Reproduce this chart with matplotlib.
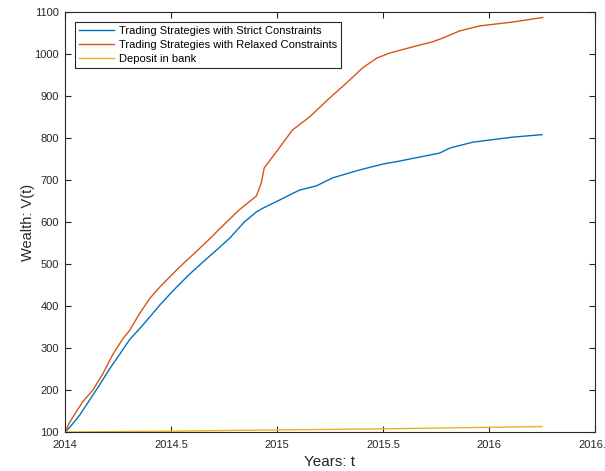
import matplotlib
matplotlib.use("Agg")
import matplotlib.pyplot as plt

plt.rcParams["font.family"] = ["Liberation Sans", "DejaVu Sans"]

# values
t_strict = [2014.0, 2014.021, 2014.069, 2014.116, 2014.163, 2014.21, 2014.258,
            2014.305, 2014.368, 2014.447, 2014.509, 2014.588, 2014.667, 2014.73,
            2014.778, 2014.846, 2014.903, 2014.93, 2015.011, 2015.106, 2015.186,
            2015.262, 2015.39, 2015.5, 2015.578, 2015.626, 2015.767, 2015.815,
            2015.923, 2016.11, 2016.25]
w_strict = [100, 110, 140, 176, 212, 250, 285,
            320, 355, 402, 436, 476, 512, 540,
            562, 600, 624, 632, 652, 676, 686,
            705, 724, 738, 745, 750, 764, 776,
            790, 802, 808]

t_relaxed = [2014.0, 2014.021, 2014.053, 2014.084, 2014.132, 2014.179, 2014.226, 2014.273,
             2014.305, 2014.352, 2014.4, 2014.447, 2014.494, 2014.541, 2014.62,
             2014.683, 2014.73, 2014.822, 2014.903, 2014.926, 2014.94, 2014.997,
             2015.073, 2015.153, 2015.248, 2015.328, 2015.404, 2015.47, 2015.53,
             2015.64, 2015.734, 2015.782, 2015.862, 2015.957, 2016.11, 2016.254]
w_relaxed = [100, 122, 148, 172, 200, 239, 285, 322,
             342, 382, 418, 445, 469, 493, 530,
             560, 584, 629, 662, 693, 729, 767,
             819, 850, 895, 931, 967, 990, 1002,
             1017, 1029, 1038, 1055, 1067, 1076, 1087]

t_bank = [2014.0, 2014.5, 2015.0, 2015.5, 2015.77, 2016.0, 2016.25]
w_bank = [100, 102, 105, 107.5, 109.5, 111, 113]

labels = ["Trading Strategies with Strict Constraints",
          "Trading Strategies with Relaxed Constraints",
          "Deposit in bank"]

fig = plt.figure(figsize=(6.05, 4.71), dpi=100)
ax = fig.add_axes([0.1074, 0.0828, 0.876, 0.8917])

ax.plot(t_strict, w_strict, color="#0072BD", lw=1.0, label=labels[0])
ax.plot(t_relaxed, w_relaxed, color="#D95319", lw=1.0, label=labels[1])
ax.plot(t_bank, w_bank, color="#EDB120", lw=1.0, label=labels[2])

ax.set_xlim(2014, 2016.5)
ax.set_ylim(100, 1100)
ax.set_xticks([2014, 2014.5, 2015, 2015.5, 2016, 2016.5])
ax.set_xticklabels(["2014", "2014.5", "2015", "2015.5", "2016", "2016.5"])
ax.set_yticks(range(100, 1101, 100))

ax.tick_params(direction="in", top=True, right=True, length=4, width=0.8,
               labelsize=8, colors="#262626")
ax.tick_params(axis="x", pad=5.5)
ax.tick_params(axis="y", pad=4.5)
for s in ax.spines.values():
    s.set_color("#262626")
    s.set_linewidth(0.8)

ax.set_xlabel("Years: t", fontsize=11, color="#262626", va="center")
ax.xaxis.set_label_coords(0.5, -0.0714)
ax.set_ylabel("Wealth: V(t)", fontsize=10.5, color="#262626", va="center")
ax.yaxis.set_label_coords(-0.07, 0.5)

leg = ax.legend(loc="upper left", bbox_to_anchor=(0.019, 0.976), borderaxespad=0,
                fontsize=8, handlelength=3.15, handletextpad=0.45,
                labelspacing=0.35, borderpad=0.35, fancybox=False,
                framealpha=1, edgecolor="#262626")
leg.get_frame().set_linewidth(0.8)

plt.savefig("out.png", dpi=100)
